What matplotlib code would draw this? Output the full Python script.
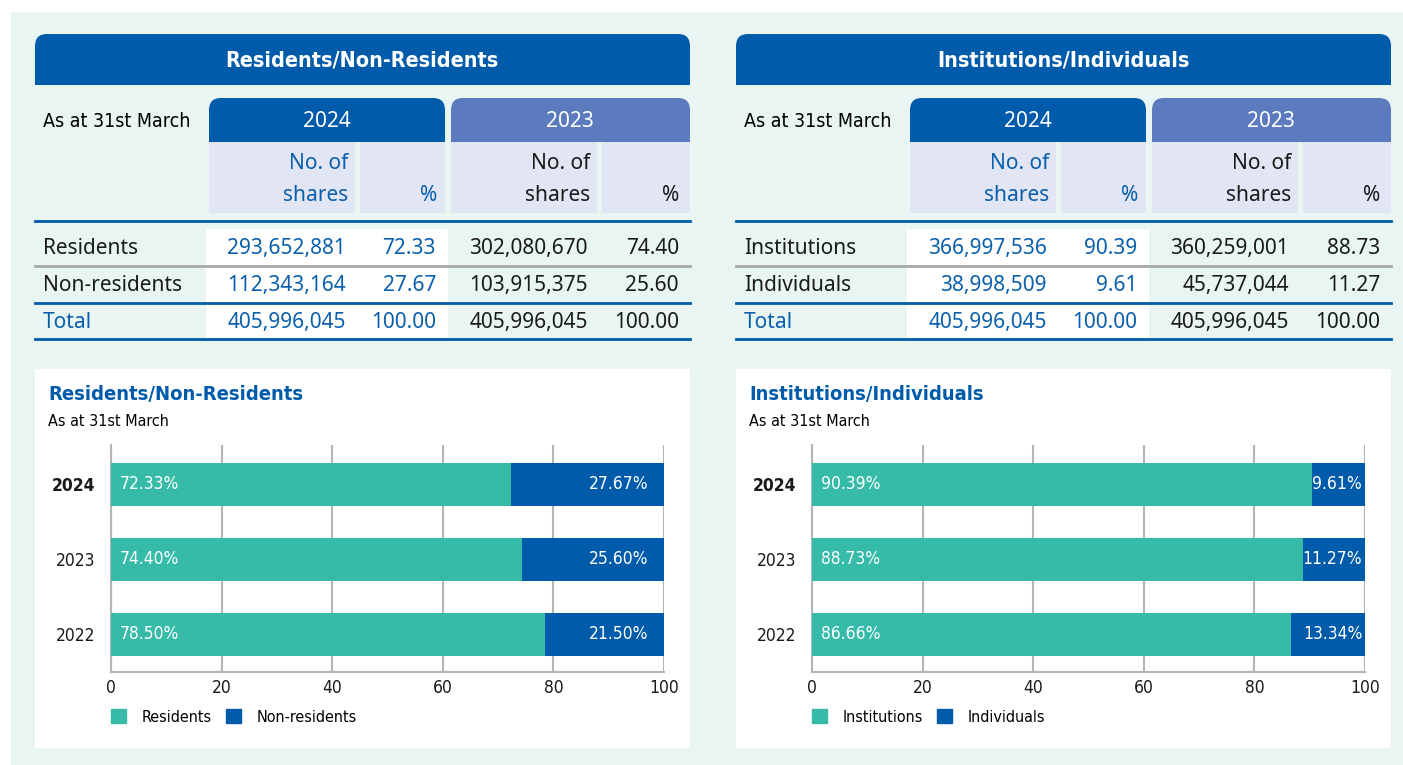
import matplotlib.pyplot as plt
from matplotlib import font_manager as fm
from matplotlib.patches import Rectangle, FancyBboxPatch, Patch

# colours
BLUE = "#005BAA"
BLUE_LIGHT = "#5B7BBE"
LAVENDER = "#E1E5F4"
TEAL = "#35BBA8"
MINT = "#E8F5F2"
GREY = "#A8A8A8"
TXT_BLUE = "#0A5FAD"

# look for a condensed / narrow face, else fall back to Roboto
narrow = [f.name for f in fm.fontManager.ttflist
          if "Condensed" in f.fname or "Narrow" in f.fname or f.stretch == "condensed"]
COND = [narrow[0], "DejaVu Sans"] if narrow else ["Roboto", "DejaVu Sans"]
STRETCH = "condensed" if narrow else "normal"
BODY = ["Noto Sans", "DejaVu Sans"]

# ---- data ----
years = ["2024", "2023", "2022"]

res_labels = ["Residents", "Non-residents", "Total"]
res_shares_2024 = [293652881, 112343164, 405996045]
res_pct_2024 = [72.33, 27.67, 100.00]
res_shares_2023 = [302080670, 103915375, 405996045]
res_pct_2023 = [74.40, 25.60, 100.00]
residents = [72.33, 74.40, 78.50]
non_residents = [27.67, 25.60, 21.50]

inst_labels = ["Institutions", "Individuals", "Total"]
inst_shares_2024 = [366997536, 38998509, 405996045]
inst_pct_2024 = [90.39, 9.61, 100.00]
inst_shares_2023 = [360259001, 45737044, 405996045]
inst_pct_2023 = [88.73, 11.27, 100.00]
institutions = [90.39, 88.73, 86.66]
individuals = [9.61, 11.27, 13.34]

W, H = 1403, 765
fig = plt.figure(figsize=(W / 100, H / 100), dpi=100)
bg = fig.add_axes([0, 0, 1, 1])
bg.set_xlim(0, W)
bg.set_ylim(H, 0)
bg.axis("off")
bg.add_patch(Rectangle((11, 12), W - 11, H - 12, color=MINT, lw=0))


def ctext(x, y, s, **kw):
    return bg.text(x, y, s, family=COND, stretch=STRETCH, va="center", **kw)


def btext(x, y, s, **kw):
    return bg.text(x, y, s, family=BODY, fontsize=15, va="center", **kw)


def tab(x0, y0, x1, y1, color, r=12):
    # box with rounded top corners only
    bg.add_patch(FancyBboxPatch((x0 + r, y0 + r), x1 - x0 - 2 * r, y1 - y0 - 2 * r,
                                boxstyle=f"round,pad={r}", color=color, lw=0))
    bg.add_patch(Rectangle((x0, (y0 + y1) / 2), x1 - x0, (y1 - y0) / 2, color=color, lw=0))


def table(ox, title, labels, sh24, pc24, sh23, pc23):
    tab(ox + 35, 34, ox + 690, 85, BLUE)
    ctext(ox + 362, 60, title, color="white", fontsize=15.5, fontweight="bold", ha="center")
    ctext(ox + 43, 121, "As at 31st March", fontsize=14)
    tab(ox + 209, 98, ox + 445, 142, BLUE)
    tab(ox + 451, 98, ox + 690, 142, BLUE_LIGHT)
    btext(ox + 327, 121, "2024", color="white", ha="center")
    btext(ox + 570, 121, "2023", color="white", ha="center")
    for x0, x1 in [(209, 355), (360, 445), (451, 597), (602, 690)]:
        bg.add_patch(Rectangle((ox + x0, 142), x1 - x0, 71, color=LAVENDER, lw=0))
    btext(ox + 348, 163, "No. of", color=TXT_BLUE, ha="right")
    btext(ox + 348, 195, "shares", color=TXT_BLUE, ha="right")
    btext(ox + 437, 195, "%", color=TXT_BLUE, ha="right")
    btext(ox + 590, 163, "No. of", color="#1a1a1a", ha="right")
    btext(ox + 590, 195, "shares", color="#1a1a1a", ha="right")
    btext(ox + 679, 195, "%", color="#1a1a1a", ha="right")

    # white block behind current-year figures
    bg.add_patch(Rectangle((ox + 206, 229), 242, 110, color="white", lw=0))
    bg.plot([ox + 35, ox + 690], [221, 221], color=BLUE, lw=2)
    bg.plot([ox + 35, ox + 690], [266, 266], color=GREY, lw=2)
    bg.plot([ox + 35, ox + 690], [303, 303], color=BLUE, lw=2)
    bg.plot([ox + 35, ox + 690], [339, 339], color=BLUE, lw=2)

    for i, y in enumerate([248, 285, 322]):
        lab_col = TXT_BLUE if i == 2 else "#1a1a1a"
        btext(ox + 43, y, labels[i], color=lab_col)
        btext(ox + 346, y, f"{sh24[i]:,}", color=TXT_BLUE, ha="right")
        btext(ox + 436, y, f"{pc24[i]:.2f}", color=TXT_BLUE, ha="right")
        btext(ox + 588, y, f"{sh23[i]:,}", color="#1a1a1a", ha="right")
        btext(ox + 679, y, f"{pc23[i]:.2f}", color="#1a1a1a", ha="right")


def chart(ox, title, a, b, names, right_pad):
    bg.add_patch(Rectangle((ox + 35, 369), 655, 379, color="white", lw=0))
    ctext(ox + 48, 394, title, color=BLUE, fontsize=14.5, fontweight="bold")
    ctext(ox + 48, 421, "As at 31st March", fontsize=11.5)

    ax = fig.add_axes([(ox + 111) / W, 1 - 672 / H, 553 / W, 227 / H])
    ax.set_facecolor("none")
    y = list(range(len(years)))
    ax.barh(y, a, height=0.57, color=TEAL, zorder=3)
    ax.barh(y, b, left=a, height=0.57, color=BLUE, zorder=3)
    for i in y:
        ax.annotate(f"{a[i]:.2f}%", (0, i), xytext=(6.5, 0), textcoords="offset points",
                    color="white", fontsize=12.5, family=COND, stretch=STRETCH,
                    va="center", ha="left", zorder=4)
        ax.annotate(f"{b[i]:.2f}%", (100, i), xytext=(-right_pad, 0), textcoords="offset points",
                    color="white", fontsize=12.5, family=COND, stretch=STRETCH,
                    va="center", ha="right", zorder=4)
    ax.set_xlim(0, 100)
    ax.set_ylim(2.5, -0.52)
    ax.set_xticks([0, 20, 40, 60, 80, 100])
    ax.set_yticks(y)
    ax.set_yticklabels(years)
    ax.grid(axis="x", color="#B5B5B5", lw=1.5, zorder=0)
    ax.set_axisbelow(True)
    for s in ["top", "right"]:
        ax.spines[s].set_visible(False)
    for s in ["left", "bottom"]:
        ax.spines[s].set_color("#B5B5B5")
        ax.spines[s].set_linewidth(1.5)
    ax.tick_params(length=0, labelsize=12.5, colors="#1a1a1a")
    ax.tick_params(axis="x", pad=5)
    ax.tick_params(axis="y", pad=11)
    for t in ax.get_xticklabels() + ax.get_yticklabels():
        t.set_family(COND)
        t.set_stretch(STRETCH)
    ax.get_yticklabels()[0].set_fontweight("semibold")

    handles = [Patch(color=TEAL, label=names[0]), Patch(color=BLUE, label=names[1])]
    ax.legend(handles=handles, loc="upper left", bbox_to_anchor=(0, -0.163), ncol=2,
              frameon=False, borderaxespad=0, borderpad=0, handlelength=0.95,
              handleheight=1.0, handletextpad=0.95, columnspacing=0.9,
              prop={"family": COND, "stretch": STRETCH, "size": 11.5})


table(0, "Residents/Non-Residents", res_labels, res_shares_2024, res_pct_2024,
      res_shares_2023, res_pct_2023)
table(701, "Institutions/Individuals", inst_labels, inst_shares_2024, inst_pct_2024,
      inst_shares_2023, inst_pct_2023)
chart(0, "Residents/Non-Residents", residents, non_residents, ["Residents", "Non-residents"], 11.5)
chart(701, "Institutions/Individuals", institutions, individuals, ["Institutions", "Individuals"], 2)

fig.savefig("out.png", dpi=100)
